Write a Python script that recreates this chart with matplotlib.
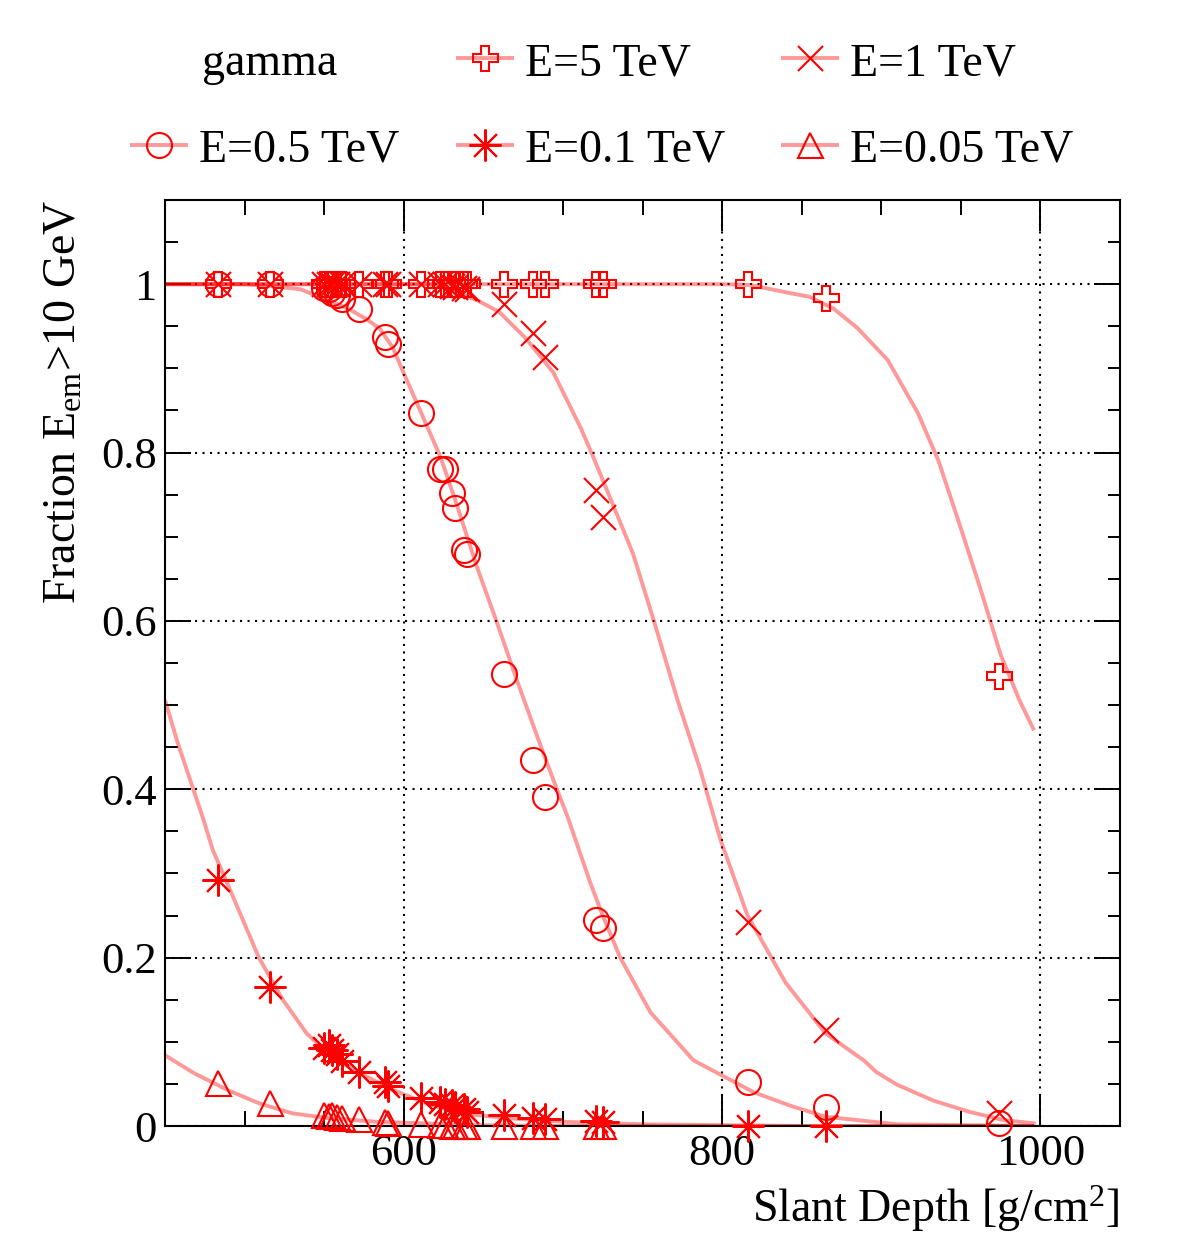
import numpy as np
import matplotlib
matplotlib.use("Agg")
import matplotlib.pyplot as plt
from matplotlib.ticker import MultipleLocator, FuncFormatter

plt.rcParams['font.family'] = ['Liberation Serif', 'DejaVu Serif']
plt.rcParams['mathtext.fontset'] = 'custom'
plt.rcParams['mathtext.rm'] = 'Liberation Serif'
plt.rcParams['mathtext.it'] = 'Liberation Serif:italic'

nan = np.nan

# slant depths of the simulated points [g/cm^2]
depth = [483, 516, 550, 553, 555, 558, 561, 572, 588, 590, 611, 623, 626,
         630, 632, 638, 640, 663, 681, 689, 721, 725, 816, 865, 974]

frac_5tev = [1, 1, 1, 1, 1, 1, 1, 1, 1, 1, 1, 1, 1,
             1, 1, 1, 1, 1, 1, 1, 1, 1, 1.0, 0.983, 0.535]
frac_1tev = [1, 1, 1, 1, 1, 1, 1, 1, 1, 1, 1, 1, 1,
             0.998, 0.997, 0.995, 0.994, 0.977, 0.942, 0.913, 0.755, 0.723,
             0.242, 0.114, 0.016]
frac_05tev = [1, 1, 0.996, 0.994, 0.99, 0.987, 0.982, 0.97, 0.937, 0.929,
              0.847, 0.781, 0.781, 0.752, 0.734, 0.684, 0.679, 0.537, 0.435,
              0.391, 0.245, 0.235, 0.052, 0.023, 0.003]
frac_01tev = [0.292, 0.165, 0.093, 0.096, 0.09, 0.085, 0.077, 0.064, 0.052,
              0.047, 0.033, 0.028, 0.026, 0.025, 0.022, 0.02, 0.017, 0.013,
              0.01, 0.008, 0.006, 0.005, 0.0, 0.0, nan]
frac_005tev = [0.051, 0.027, 0.013, 0.012, 0.013, 0.011, 0.01, 0.008, 0.005,
               0.004, 0.002, 0.001, 0.001, 0.0, 0.0, 0.0, 0.0, 0.0, 0.0, 0.0,
               0.0, 0.0, nan, nan, nan]

# smooth curves
curve_5tev_x = [450, 800, 818, 841, 855, 870, 885, 904, 923, 936, 950, 962,
                975, 987, 996]
curve_5tev_y = [1, 1, 0.999, 0.99, 0.985, 0.971, 0.948, 0.91, 0.847, 0.79,
                0.71, 0.64, 0.56, 0.505, 0.47]
curve_1tev_x = [450, 620, 646, 660, 677, 694, 711, 719, 731, 744, 757, 772,
                786, 799, 816, 840, 865, 889, 897, 910, 933, 955, 977, 997]
curve_1tev_y = [1, 1, 0.981, 0.967, 0.935, 0.895, 0.83, 0.795, 0.74, 0.68,
                0.601, 0.506, 0.425, 0.34, 0.25, 0.17, 0.11, 0.078, 0.064,
                0.049, 0.03, 0.017, 0.007, 0.003]
curve_05tev_x = [450, 500, 516, 535, 555, 566, 577, 585, 593, 601, 611, 623,
                 633, 646, 658, 671, 684, 694, 703, 717, 725, 736, 755, 774,
                 782, 803, 820, 843, 865, 910, 996]
curve_05tev_y = [1, 1, 0.998, 0.994, 0.979, 0.97, 0.958, 0.947, 0.925, 0.89,
                 0.847, 0.795, 0.74, 0.664, 0.601, 0.53, 0.462, 0.411, 0.367,
                 0.29, 0.25, 0.2, 0.135, 0.095, 0.078, 0.057, 0.04, 0.024,
                 0.011, 0.002, 0.0]
curve_01tev_x = [450, 458, 466, 474, 480, 491, 509, 524, 539, 555, 572, 593,
                 614, 635, 667, 700, 750, 800, 850, 996]
curve_01tev_y = [0.506, 0.455, 0.41, 0.365, 0.328, 0.28, 0.2, 0.15, 0.11,
                 0.082, 0.063, 0.043, 0.027, 0.015, 0.009, 0.005, 0.002,
                 0.001, 0.0, 0.0]
curve_005tev_x = [450, 468, 489, 509, 530, 552, 583, 614, 650, 700, 996]
curve_005tev_y = [0.084, 0.063, 0.043, 0.027, 0.015, 0.0095, 0.005, 0.003,
                  0.001, 0.0, 0.0]

labels = ["E=5 TeV", "E=1 TeV", "E=0.5 TeV", "E=0.1 TeV", "E=0.05 TeV"]
markers = ["P", "x", "o", (8, 2, 0), "^"]
msizes = [18, 18, 18, 23, 18]

series = [
    (frac_5tev, curve_5tev_x, curve_5tev_y),
    (frac_1tev, curve_1tev_x, curve_1tev_y),
    (frac_05tev, curve_05tev_x, curve_05tev_y),
    (frac_01tev, curve_01tev_x, curve_01tev_y),
    (frac_005tev, curve_005tev_x, curve_005tev_y),
]

RED = "#ff0000"
LINE_KW = dict(color=RED, alpha=0.4, lw=2.8, solid_capstyle="butt")
MEW = 1.5

W, H = 1182, 1253
fig = plt.figure(figsize=(W / 100, H / 100), dpi=100)
ax = fig.add_axes([165 / W, (H - 1126) / H, 955 / W, 926 / H])

for fy, cx, cy in series:
    ax.plot(cx, cy, zorder=2, **LINE_KW)
for (fy, cx, cy), m, ms in zip(series, markers, msizes):
    ax.plot(depth, fy, ls="none", marker=m, ms=ms, mew=MEW, mec=RED,
            mfc="none", color=RED, zorder=3, clip_on=False)

ax.set_xlim(450, 1050)
ax.set_ylim(0, 1.1)
ax.xaxis.set_major_locator(MultipleLocator(200))
ax.xaxis.set_minor_locator(MultipleLocator(50))
ax.yaxis.set_major_locator(MultipleLocator(0.2))
ax.yaxis.set_minor_locator(MultipleLocator(0.05))
ax.yaxis.set_major_formatter(FuncFormatter(lambda v, p: f"{v:g}"))
ax.tick_params(which="both", direction="in", top=True, right=True,
               width=1.4, labelsize=32, pad=6)
ax.tick_params(axis="x", which="major", length=22)
ax.tick_params(axis="x", which="minor", length=11)
ax.tick_params(axis="y", which="major", length=19)
ax.tick_params(axis="y", which="minor", length=9)
for s in ax.spines.values():
    s.set_linewidth(1.5)
ax.grid(True, which="major", color="k", lw=1.5, ls=(0, (1, 2.6)))
ax.set_axisbelow(True)

ax.text(1.0, -0.1037, r"Slant Depth [g/cm$^{2}$]", transform=ax.transAxes,
        ha="right", va="baseline", fontsize=33)
ax.text(-0.105, 1.0, r"Fraction E$_{\mathrm{em}}$>10 GeV",
        transform=ax.transAxes, rotation=90, ha="center", va="top",
        fontsize=33)

# legend drawn in pixel coordinates above the frame
lax = fig.add_axes([0, 0, 1, 1], zorder=-1)
lax.set_xlim(0, W)
lax.set_ylim(H, 0)
lax.axis("off")
lax.text(202, 75, "gamma", fontsize=33, va="baseline", ha="left")
leg_pos = [(485, 58, 75), (810, 58, 75), (159, 145, 162), (485, 145, 162),
           (810, 145, 162)]
for (mx, my, by), m, ms, lab in zip(leg_pos, markers, msizes, labels):
    lax.plot([mx - 29, mx + 29], [my, my], **LINE_KW)
    lax.plot([mx], [my], ls="none", marker=m, ms=ms, mew=MEW, mec=RED,
             mfc="none")
    lax.text(mx + 40, by, lab, fontsize=33, va="baseline", ha="left")

fig.savefig("out.png", dpi=100)
